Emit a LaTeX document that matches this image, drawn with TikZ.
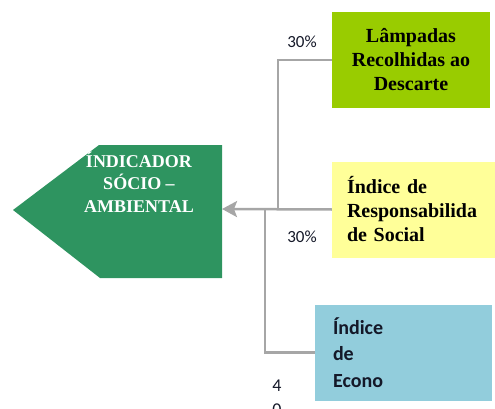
\documentclass[tikz,border=0pt]{standalone}
\usepackage{fontspec}
\setmainfont{Liberation Serif}
\newfontfamily\calibri{Carlito}
\usetikzlibrary{arrows.meta}

\definecolor{indgreen}{RGB}{46,148,96}
\definecolor{lampgreen}{RGB}{153,204,0}
\definecolor{respyellow}{RGB}{255,255,153}
\definecolor{econblue}{RGB}{146,205,220}
\definecolor{linegray}{RGB}{166,166,166}
\definecolor{darktext}{RGB}{20,24,40}

\begin{document}
\begin{tikzpicture}[x=1pt,y=-1pt,
    box/.style={inner sep=0pt, minimum height=96pt},
    serifbold/.style={font=\bfseries\fontsize{20}{24}\selectfont},
    sansbold/.style={font=\calibri\bfseries\fontsize{20}{26.5}\selectfont},
    pct/.style={font=\calibri\fontsize{17}{20}\selectfont, text=darktext},
    branch/.style={draw=linegray, line width=2.5pt}]
    \useasboundingbox (0,0) rectangle (495,409);
    % indicator
    \fill[indgreen] (13,210) -- (99,145) -- (222,145) -- (222,278) -- (100,278) -- cycle;
    \node[serifbold, font=\bfseries\fontsize{18}{22.5}\selectfont, text=white, align=center] (ind) at (139,182) {ÍNDICADOR\\SÓCIO –\\AMBIENTAL};
    \coordinate (indE) at (222,209);
    % boxes
    \node[box, fill=lampgreen, minimum width=158pt, serifbold, align=center] (lamp) at (411,60) {Lâmpadas\\Recolhidas ao\\Descarte};
    \node[box, fill=respyellow, inner xsep=15pt, text width=133pt, serifbold, align=left] (resp) at (413.5,209.5) {Índice de\\Responsabilida\\de Social};
    \node[box, fill=econblue, inner xsep=18pt, text width=141pt, sansbold, text=darktext, align=left] (econ) at (403.5,352.5) {Índice\\de\\Econo};
    % connectors
    \coordinate (j1) at (278,209);
    \coordinate (j2) at (265,209);
    \draw[branch] (lamp.west) -| (j1);
    \draw[branch] (econ.west) -| (j2);
    \draw[branch, -{Stealth[length=15pt,width=16pt,inset=3pt]}] (resp.west) -- (indE);
    % labels
    \node[pct] (pcttop) at (302,42) {30\%};
    \node[pct] (pctbot) at (302,237) {30\%};
    \node[pct, font=\calibri\fontsize{18}{24}\selectfont, align=center] (num) at (277,398) {4\\0};
\end{tikzpicture}
\end{document}
